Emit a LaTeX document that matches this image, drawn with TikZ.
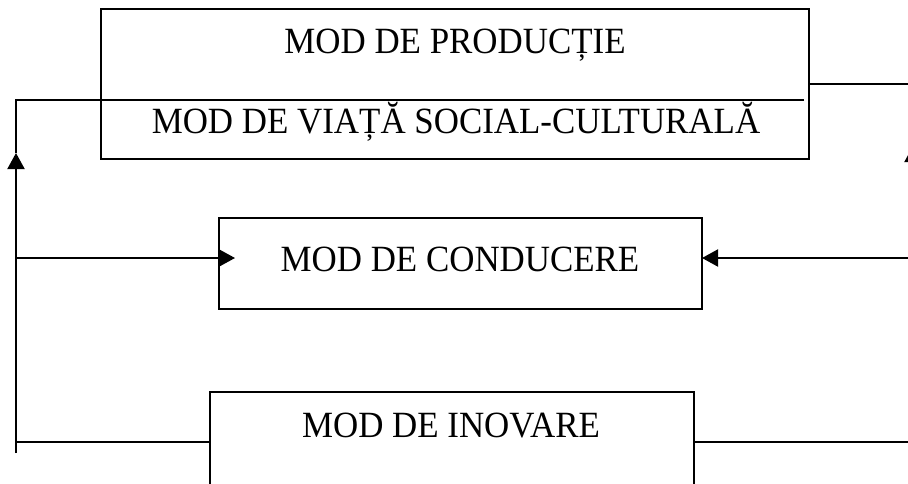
\documentclass[tikz,border=0pt]{standalone}
\usepackage{fontspec}
\setmainfont{Liberation Serif}
\usetikzlibrary{arrows.meta}
\newcommand{\tallertext}[1]{\scalebox{1}[1.06]{#1}}
\begin{document}
\begin{tikzpicture}[x=1pt,y=-1pt,
  boxst/.style={draw,line width=1.8pt,inner sep=0pt,outer sep=0pt},
  lbl/.style={anchor=base,inner sep=0pt,font=\fontsize{34.9}{40}\selectfont},
  wire/.style={line width=2pt},
  tipend/.style={-{Triangle[length=16pt,width=17pt]}}]
\useasboundingbox (0,0) rectangle (908,483);
\clip (0,0) rectangle (908,483);
% boxes
\node[boxst, minimum width=708pt, minimum height=150pt] (prod) at (455,84) {};
\node[boxst, minimum width=483pt, minimum height=91pt] (cond) at (460.5,263.5) {};
\node[boxst, minimum width=484pt, minimum height=130pt] (inov) at (452,457) {};
% labels
\node[lbl] (tprod) at (455,53) {\tallertext{MOD DE PRODUCȚIE}};
\node[lbl] (tviata) at (456,133) {\tallertext{MOD DE VIAȚĂ SOCIAL-CULTURALĂ}};
\node[lbl] (tcond) at (460,271) {\tallertext{MOD DE CONDUCERE}};
\node[lbl] (tinov) at (451,437) {\tallertext{MOD DE INOVARE}};
% coordinates
\coordinate (lt) at (16,100);
\coordinate (lb) at (16,453);
\coordinate (la) at (16,153);
\coordinate (lm) at (16,258);
\coordinate (lbm) at (16,442);
\coordinate (dr) at (804,100);
\coordinate (rt) at (913,84);
\coordinate (rb) at (913,442);
\coordinate (ra) at (913,146);
\coordinate (rm) at (913,258);
% connectors
\draw[wire] (dr) -- (lt) -- (la);
\draw[wire,tipend] (lb) -- (la);
\draw[wire,tipend,shorten >=-16pt] (lm) -- (lm -| cond.west);
\draw[wire,tipend] (rm) -- (rm -| cond.east);
\draw[wire] (lbm) -- (lbm -| inov.west);
\draw[wire] (rb) -- (rb -| inov.east);
\draw[wire] (rt) -- (rt -| prod.east);
\draw[wire,tipend] (rb) -- (ra);
\draw[wire] (ra) -- (rt);
\end{tikzpicture}
\end{document}
